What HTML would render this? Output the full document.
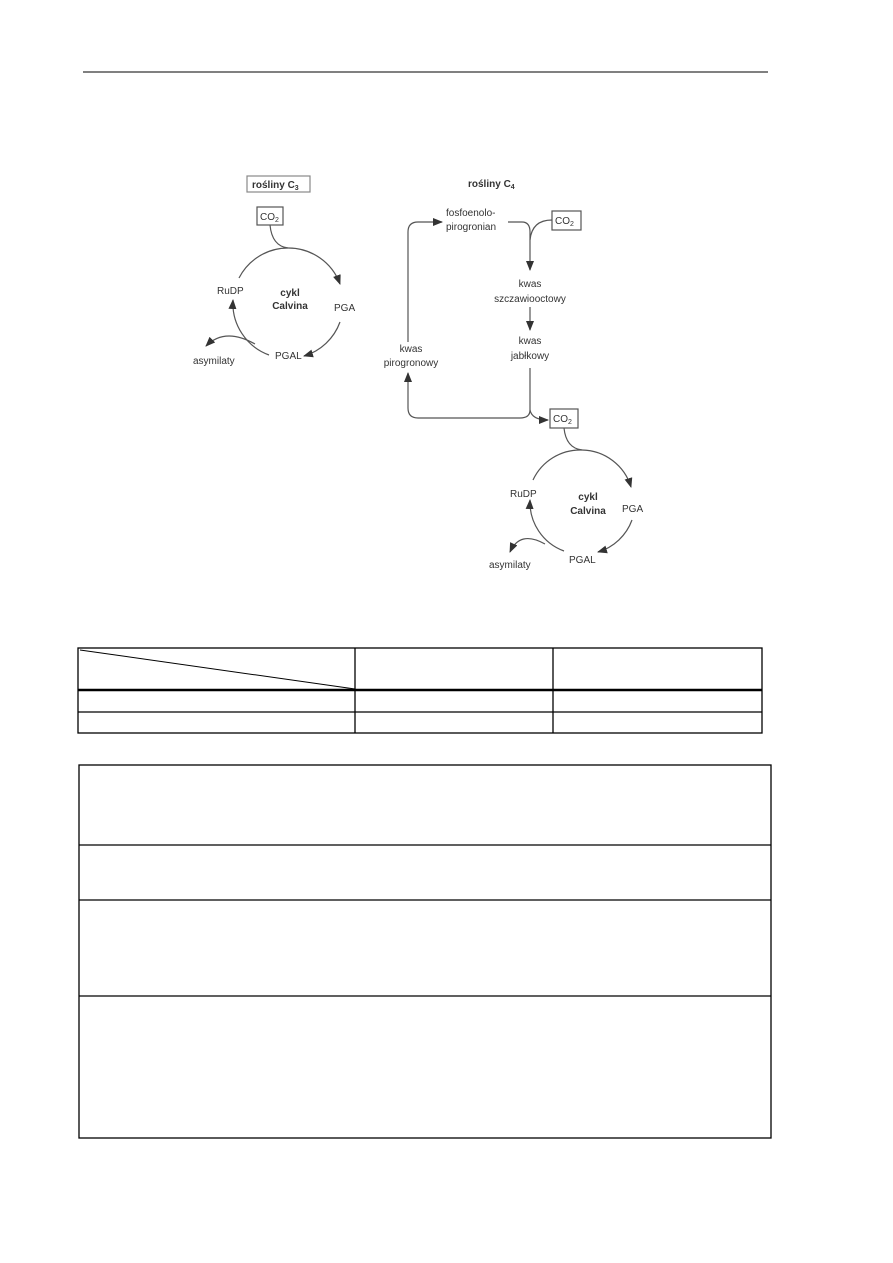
<!DOCTYPE html>
<html><head><meta charset="utf-8"><style>
html,body{margin:0;padding:0;background:#fff}
body{width:893px;height:1263px;position:relative;overflow:hidden}
svg{position:absolute;left:0;top:0}
text{font-family:"Liberation Sans",sans-serif;font-size:10px;fill:#333}
.b{font-weight:bold}
</style></head><body>
<svg width="893" height="1263" viewBox="0 0 893 1263">
<defs><marker id="a" markerWidth="10" markerHeight="8" refX="9" refY="4" orient="auto" markerUnits="userSpaceOnUse"><path d="M0,0 L10,4 L0,8 Z" fill="#333"/></marker></defs>
<line x1="83" y1="72" x2="768" y2="72" stroke="#000" stroke-width="1"/>
<g fill="none" stroke="#555" stroke-width="1.2">
<!-- C3 -->
<rect x="247" y="176" width="63" height="16" stroke="#888"/>
<rect x="257" y="207" width="26" height="18"/>
<path d="M270,225 Q272,246 288,248"/>
<path d="M239,278 A55,55 0 0 1 288,248 A55,55 0 0 1 340,284" marker-end="url(#a)"/>
<path d="M340,322 A55,55 0 0 1 304,356" marker-end="url(#a)"/>
<path d="M269,355 A55,55 0 0 1 233,300" marker-end="url(#a)"/>
<path d="M255,344 Q225,327 206,346" marker-end="url(#a)"/>
<!-- C4 -->
<rect x="552" y="211" width="29" height="19"/>
<path d="M408,342 L408,232 Q408,222 418,222 L442,222" marker-end="url(#a)"/>
<path d="M508,222 L522,222 Q530,222 530,232 L530,270" marker-end="url(#a)"/>
<path d="M552,220 Q532,220 530,240"/>
<path d="M530,307 L530,330" marker-end="url(#a)"/>
<path d="M530,368 L530,410 Q530,418 520,418 L418,418 Q408,418 408,408 L408,382"/>
<path d="M408,382 L408,373" marker-end="url(#a)"/>
<path d="M530,410 Q532,420 548,420" marker-end="url(#a)"/>
<rect x="550" y="409" width="28" height="19"/>
<path d="M564,428 Q566,448 582,450"/>
<path d="M533,480 A52,52 0 0 1 582,450 A52,52 0 0 1 631,487" marker-end="url(#a)"/>
<path d="M632,520 A52,52 0 0 1 598,552" marker-end="url(#a)"/>
<path d="M564,551 A52,52 0 0 1 530,500" marker-end="url(#a)"/>
<path d="M545,544 Q520,530 510,552" marker-end="url(#a)"/>
</g>
<text x="252" y="188" class="b">rośliny C<tspan font-size="7" dy="2">3</tspan></text>
<text x="260" y="220">CO<tspan font-size="7" dy="2">2</tspan></text>
<text x="217" y="294">RuDP</text>
<text x="290" y="296" class="b" text-anchor="middle">cykl</text>
<text x="290" y="309" class="b" text-anchor="middle">Calvina</text>
<text x="334" y="311">PGA</text>
<text x="275" y="359">PGAL</text>
<text x="193" y="364">asymilaty</text>
<text x="468" y="187" class="b">rośliny C<tspan font-size="7" dy="2">4</tspan></text>
<text x="446" y="216">fosfoenolo-</text>
<text x="446" y="230">pirogronian</text>
<text x="555" y="224">CO<tspan font-size="7" dy="2">2</tspan></text>
<text x="530" y="287" text-anchor="middle">kwas</text>
<text x="530" y="302" text-anchor="middle">szczawiooctowy</text>
<text x="530" y="344" text-anchor="middle">kwas</text>
<text x="530" y="359" text-anchor="middle">jabłkowy</text>
<text x="411" y="352" text-anchor="middle">kwas</text>
<text x="411" y="366" text-anchor="middle">pirogronowy</text>
<text x="553" y="422">CO<tspan font-size="7" dy="2">2</tspan></text>
<text x="510" y="497">RuDP</text>
<text x="588" y="500" class="b" text-anchor="middle">cykl</text>
<text x="588" y="514" class="b" text-anchor="middle">Calvina</text>
<text x="622" y="512">PGA</text>
<text x="569" y="563">PGAL</text>
<text x="489" y="568">asymilaty</text>
<!-- table -->
<g stroke="#000" fill="none" stroke-width="1.3">
<rect x="78" y="648" width="684" height="85"/>
<line x1="355" y1="648" x2="355" y2="733"/>
<line x1="553" y1="648" x2="553" y2="733"/>
<line x1="78" y1="690" x2="762" y2="690" stroke-width="2.5"/>
<line x1="78" y1="712" x2="762" y2="712"/>
<line x1="80" y1="650" x2="355" y2="689" stroke-width="1"/>
<rect x="79" y="765" width="692" height="373"/>
<line x1="79" y1="845" x2="771" y2="845"/>
<line x1="79" y1="900" x2="771" y2="900"/>
<line x1="79" y1="996" x2="771" y2="996"/>
</g>
</svg>
</body></html>
